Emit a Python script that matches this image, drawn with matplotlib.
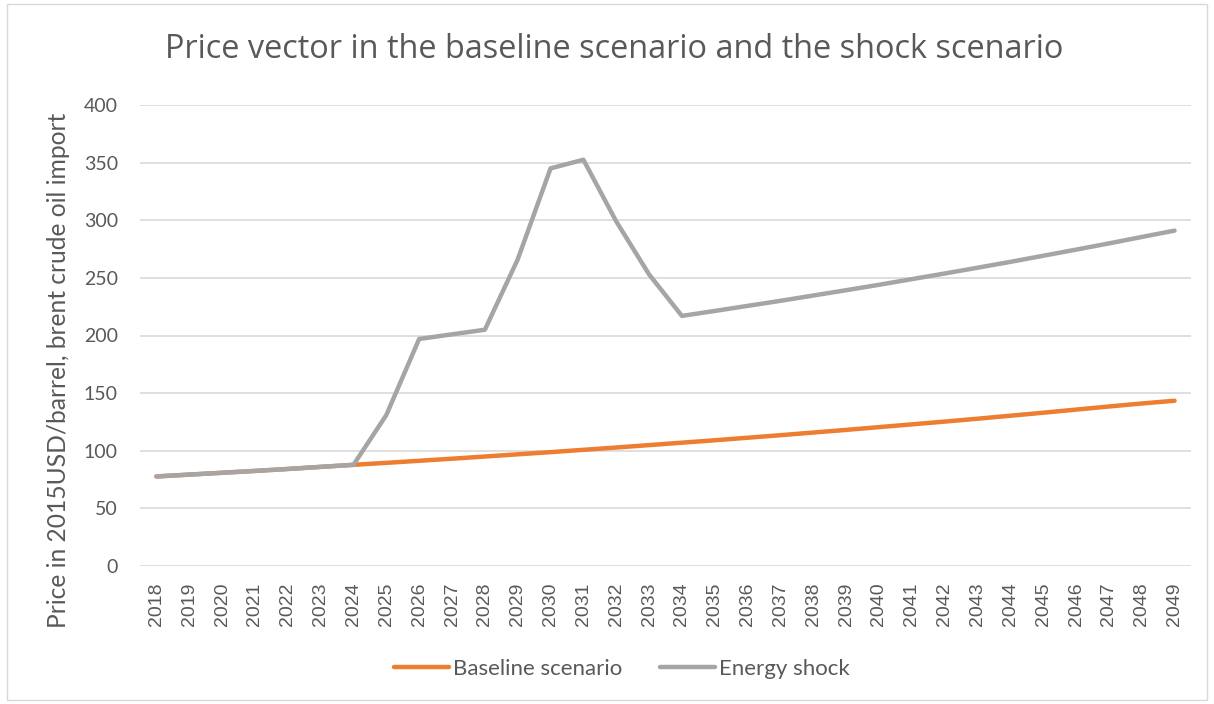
import numpy as np
import matplotlib.pyplot as plt
from matplotlib.patches import Rectangle

years = [str(y) for y in range(2018, 2050)]
baseline = [77.7, 79.3, 80.9, 82.5, 84.2, 86.0, 87.8, 89.5, 91.3, 93.1, 95.0,
            96.9, 98.8, 100.8, 102.8, 104.9, 107.0, 109.1, 111.3, 113.5, 115.8,
            118.1, 120.5, 122.9, 125.3, 127.8, 130.4, 133.0, 135.7, 138.4,
            141.0, 143.4]
shock = [77.7, 79.3, 80.9, 82.5, 84.2, 86.0, 87.8, 131, 197, 201, 205, 266,
         345, 352.5, 299, 253, 217, 221.3, 225.7, 230.1, 234.7, 239.3, 244.0,
         248.9, 253.8, 258.8, 263.9, 269.2, 274.5, 279.9, 285.5, 291]

txt = '#595959'
plt.rcParams['font.family'] = ['Lato', 'DejaVu Sans']

fig = plt.figure(figsize=(12.14, 7.04), dpi=100)
ax = fig.add_axes([140/1214, 1 - 566/704, (1191-140)/1214, (566-105)/704])

xs = np.arange(len(years))
ax.plot(xs, baseline, color='#ED7D31', lw=3.2, solid_capstyle='round', label='Baseline scenario', zorder=3)
ax.plot(xs, shock, color='#A5A5A5', lw=3.2, solid_capstyle='round', label='Energy shock', zorder=4)

ax.set_xlim(-0.5, len(years) - 0.5)
ax.set_ylim(0, 400)
ax.set_yticks(range(0, 401, 50))
ax.set_xticks(xs)
ax.set_xticklabels(years, rotation=90, fontfamily='Liberation Sans')
ax.grid(axis='y', color='#D9D9D9', lw=1.2)
ax.set_axisbelow(True)
for s in ax.spines.values():
    s.set_visible(False)
ax.tick_params(length=0, labelsize=14, colors=txt)
ax.tick_params(axis='y', pad=16)
ax.tick_params(axis='x', pad=12)
ax.set_ylabel('Price in 2015USD/barrel, brent crude oil import', fontsize=17.7, color=txt)
ax.yaxis.set_label_coords(-0.0666, 0.425)

fig.text(0.506, 1 - 50/704, 'Price vector in the baseline scenario and the shock scenario',
         ha='center', va='center', fontsize=23.4, color=txt, fontfamily='Open Sans')

fig.legend(loc='center', bbox_to_anchor=(0.512, 1 - 669/704), ncol=2, frameon=False,
           fontsize=16, labelcolor=txt, handlelength=2.5, handletextpad=0.15, columnspacing=1.7)

fig.patches.append(Rectangle((0.006, 0.006), 0.988, 0.988, transform=fig.transFigure,
                             fill=False, edgecolor='#D9D9D9', lw=1))

fig.savefig('out.png', dpi=100)
